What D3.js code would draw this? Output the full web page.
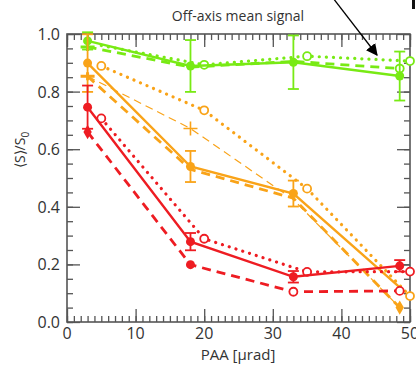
<!DOCTYPE html>
<html>
<head>
<meta charset="utf-8">
<script src="https://cdn.jsdelivr.net/npm/d3@7"></script>
<style>
body{margin:0;background:#fff}
text{font-family:"Open Sans",sans-serif;fill:#333}
</style>
</head>
<body>
<div class="Chart"></div>
<script>
// PAA positions (µrad) for the three kinds of curve
const paa=[3,18,33,48.5]
const paaOffset=[5,20,35,50]

const greenMean=[0.976,0.889,0.902,0.854]
const greenErr=[0.03,0.09,0.093,0.085]
const greenDash=[0.955,0.885,0.905,0.88]
const greenDot=[0.96,0.893,0.923,0.906]

const orangeMean=[0.899,0.54,0.446,0.12]
const orangeErr=[0.1,0.054,0.045,0]
const orangeDash=[0.853,0.53,0.43,0.05]
const orangeThin=[0.853,0.672,0.425,0.05]
const orangeDot=[0.889,0.735,0.463,0.09]

const redMean=[0.746,0.279,0.157,0.195]
const redErr=[0.075,0.03,0.02,0.02]
const redDash=[0.66,0.199,0.105,0.108]
const redDot=[0.707,0.289,0.174,0.175]

const xTicks=[0,10,20,30,40,50]
const yTicks=[0,0.2,0.4,0.6,0.8,1.0]

const green='#78ea14', orange='#f9a318', red='#ee1c22'

const W=416,H=365
const margin={top:34,right:6,bottom:43,left:67}

const svg=d3.select('.Chart').append('svg')
	.attr('width',W).attr('height',H)

const xScale=d3.scaleLinear().domain([0,50]).range([margin.left,W-margin.right])
const yScale=d3.scaleLinear().domain([0,1]).range([H-margin.bottom,margin.top])

const axisColor='#555'

// frame + inward ticks on all four sides
function tickAxis(axisFn,scale,values,len){
	return axisFn(scale).tickValues(values).tickSize(len).tickFormat('')
}
const xMinor=d3.range(0,51,1), yMinor=d3.range(0,1.001,0.05)
const x0=xScale.range()[0], x1=xScale.range()[1], y0=yScale.range()[0], y1=yScale.range()[1]

const axes=svg.append('g').attr('class','axes')
axes.append('g').attr('transform',`translate(0,${y0})`).call(tickAxis(d3.axisBottom,xScale,xMinor,-6))
axes.append('g').attr('transform',`translate(0,${y0})`).call(tickAxis(d3.axisBottom,xScale,xTicks,-13))
axes.append('g').attr('transform',`translate(0,${y1})`).call(tickAxis(d3.axisTop,xScale,xMinor,-6))
axes.append('g').attr('transform',`translate(0,${y1})`).call(tickAxis(d3.axisTop,xScale,xTicks,-13))
axes.append('g').attr('transform',`translate(${x0},0)`).call(tickAxis(d3.axisLeft,yScale,yMinor,-6))
axes.append('g').attr('transform',`translate(${x0},0)`).call(tickAxis(d3.axisLeft,yScale,yTicks,-13))
axes.append('g').attr('transform',`translate(${x1},0)`).call(tickAxis(d3.axisRight,yScale,yMinor,-6))
axes.append('g').attr('transform',`translate(${x1},0)`).call(tickAxis(d3.axisRight,yScale,yTicks,-13))
axes.selectAll('path.domain').remove()
axes.selectAll('line').attr('stroke',axisColor).attr('stroke-width',1.3)

axes.append('rect')
	.attr('x',x0).attr('y',y1).attr('width',x1-x0).attr('height',y0-y1)
	.attr('fill','none').attr('stroke',axisColor).attr('stroke-width',1.6)

// tick labels
svg.append('g').selectAll('text').data(xTicks).join('text')
	.attr('x',d=>xScale(d)).attr('y',y0+17)
	.attr('text-anchor','middle').attr('font-size',16)
	.text(d=>d)
svg.append('g').selectAll('text').data(yTicks).join('text')
	.attr('x',x0-7).attr('y',d=>yScale(d)+6)
	.attr('text-anchor','end').attr('font-size',16)
	.text(d=>d.toFixed(1))

// titles
svg.append('text').attr('x',238).attr('y',21).attr('text-anchor','middle')
	.attr('font-size',14).text('Off-axis mean signal')
svg.append('text').attr('x',238).attr('y',360).attr('text-anchor','middle')
	.attr('font-size',15).text('PAA [µrad]')
const yt=svg.append('text').attr('transform','translate(25,150) rotate(-90)')
	.attr('text-anchor','middle').attr('font-size',14)
yt.append('tspan').text('⟨S⟩/S')
yt.append('tspan').attr('font-size',10).attr('dy',4).text('0')

// series
const dotted='0.1,7'
const series=[
	{xs:paa,ys:greenDash,color:green,width:2.8,dash:'9,6',marks:['dash',null,null,'open']},
	{xs:paaOffset,ys:greenDot,color:green,width:3.2,dash:dotted,marks:[null,'open','open','open']},
	{xs:paa,ys:greenMean,err:greenErr,color:green,width:2.4,dash:null,marks:['dot','dot','dot','dot']},
	{xs:paa,ys:orangeThin,color:orange,width:1.2,dash:'8,5',marks:[null,'plus',null,null]},
	{xs:paa,ys:orangeDash,color:orange,width:2.8,dash:'9,6',marks:['dash',null,null,'diamond']},
	{xs:paaOffset,ys:orangeDot,color:orange,width:3.2,dash:dotted,marks:['open','open','open','open']},
	{xs:paa,ys:orangeMean,err:orangeErr,color:orange,width:2.4,dash:null,marks:['dot','dot','dot',null]},
	{xs:paa,ys:redDash,color:red,width:2.8,dash:'9,6',marks:['diamond','dot','open','open']},
	{xs:paaOffset,ys:redDot,color:red,width:3.2,dash:dotted,marks:['open','open','open','open']},
	{xs:paa,ys:redMean,err:redErr,color:red,width:2.4,dash:null,marks:['dot','dot','dot','dot']}
]

const line=d3.line().x(d=>xScale(d.x)).y(d=>yScale(d.y))
const plot=svg.append('g')

series.forEach(s=>{
	const pts=s.xs.map((x,i)=>({x,y:s.ys[i],e:s.err?s.err[i]:0,m:s.marks[i]}))
	plot.append('path').datum(pts)
		.attr('d',line).attr('fill','none')
		.attr('stroke',s.color).attr('stroke-width',s.width)
		.attr('stroke-dasharray',s.dash).attr('stroke-linecap',s.dash===dotted?'round':'butt')

	if(s.err){
		const eb=plot.append('g').selectAll('g').data(pts.filter(p=>p.e>0)).join('g')
			.attr('stroke',s.color).attr('stroke-width',1.8)
		eb.append('line').attr('x1',d=>xScale(d.x)).attr('x2',d=>xScale(d.x))
			.attr('y1',d=>yScale(d.y-d.e)).attr('y2',d=>yScale(d.y+d.e))
		eb.append('line').attr('x1',d=>xScale(d.x)-5.5).attr('x2',d=>xScale(d.x)+5.5)
			.attr('y1',d=>yScale(d.y-d.e)).attr('y2',d=>yScale(d.y-d.e))
		eb.append('line').attr('x1',d=>xScale(d.x)-5.5).attr('x2',d=>xScale(d.x)+5.5)
			.attr('y1',d=>yScale(d.y+d.e)).attr('y2',d=>yScale(d.y+d.e))
	}

	pts.filter(p=>p.m).forEach(p=>{
		const cx=xScale(p.x), cy=yScale(p.y)
		if(p.m==='dot'){
			plot.append('circle').attr('cx',cx).attr('cy',cy).attr('r',4.5).attr('fill',s.color)
		} else if(p.m==='open'){
			plot.append('circle').attr('cx',cx).attr('cy',cy).attr('r',4)
				.attr('fill','#fff').attr('stroke',s.color).attr('stroke-width',1.8)
		} else if(p.m==='plus'){
			plot.append('path').attr('d',`M${cx-7},${cy}H${cx+7}M${cx},${cy-7}V${cy+7}`)
				.attr('stroke',s.color).attr('stroke-width',1.6)
		} else if(p.m==='diamond'){
			plot.append('path').attr('transform',`translate(${cx},${cy})`)
				.attr('d',d3.symbol(d3.symbolDiamond,60)()).attr('fill',s.color)
		} else if(p.m==='dash'){
			plot.append('path').attr('d',`M${cx-7},${cy}H${cx+7}M${cx},${cy-4}V${cy+4}`)
				.attr('stroke',s.color).attr('stroke-width',3)
		}
	})
})

// annotation arrow
svg.append('defs').append('marker').attr('id','ah')
	.attr('viewBox','0 0 10 10').attr('refX',9).attr('refY',5)
	.attr('markerWidth',9).attr('markerHeight',9).attr('orient','auto')
	.append('path').attr('d','M0,0L10,5L0,10Z').attr('fill','#000')
svg.append('line').attr('x1',333).attr('y1',-2).attr('x2',377).attr('y2',55)
	.attr('stroke','#000').attr('stroke-width',1.3).attr('marker-end','url(#ah)')
svg.append('rect').attr('x',412).attr('y',0).attr('width',3).attr('height',9).attr('fill','#111')
</script>
</body>
</html>
